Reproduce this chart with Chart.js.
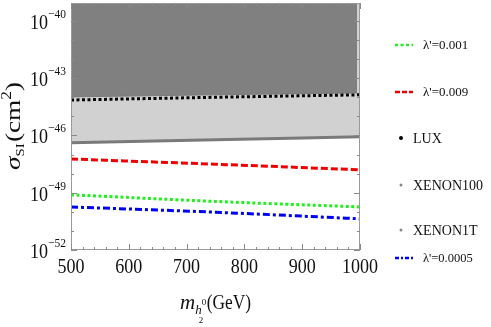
<!DOCTYPE html>
<html>
<head>
<meta charset="utf-8">
<script src="https://cdn.jsdelivr.net/npm/chart.js@4.4.0/dist/chart.umd.min.js"></script>
<style>
html, body { margin: 0; padding: 0; background: #fff; }
#wrap { width: 491px; height: 327px; }
</style>
</head>
<body>
<div id="wrap"><canvas id="chart"></canvas></div>
<script>
// Data (cross sections in cm^2)
const masses = [500, 750, 1000];
const xenon100Masses = [500, 750, 995];
const xenon100 = [1.05e-44, 1.35e-44, 1.7e-44];
const lux = [7.2e-45, 1.0e-44, 1.35e-44];
const xenon1t = [4.1e-47, 5.9e-47, 8.5e-47];
const lam009 = [5.9e-48, 3.1e-48, 1.6e-48];
const lam001 = [7.8e-50, 3.5e-50, 1.8e-50];
const lam0005 = [1.8e-50, 9.5e-51, 4.3e-51];

const xTicks = [500, 600, 700, 800, 900, 1000];
const yTickExps = [-40, -43, -46, -49, -52];

const serif = '"Liberation Serif", "DejaVu Serif", serif';

function pts(xs, ys) {
    return xs.map((m, i) => ({ x: m, y: ys[i] }));
}

// draw text squeezed/stretched horizontally by sx
function textScaled(ctx, str, x, y, sx) {
    ctx.save();
    ctx.translate(x, y);
    ctx.scale(sx, 1);
    ctx.fillText(str, 0, 0);
    ctx.restore();
}

// Custom axes, ticks, titles and legend
const decorPlugin = {
    id: 'decor',
    afterDraw(chart) {
        const ctx = chart.ctx;
        const xs = chart.scales.x;
        const ys = chart.scales.y;
        const area = chart.chartArea;
        ctx.save();

        // frame
        ctx.strokeStyle = '#9a9a9a';
        ctx.lineWidth = 1;
        ctx.strokeRect(area.left + 0.5, area.top + 0.5, area.right - area.left - 1, area.bottom - area.top - 1);

        // x ticks (inward, bottom and top)
        ctx.strokeStyle = '#8a8a8a';
        for (let v = 500; v <= 1000; v += 20) {
            const px = Math.round(xs.getPixelForValue(v)) + 0.5;
            const len = v % 100 === 0 ? 6 : 3;
            ctx.beginPath();
            ctx.moveTo(px, area.bottom);
            ctx.lineTo(px, area.bottom - len);
            ctx.moveTo(px, area.top);
            ctx.lineTo(px, area.top + len);
            ctx.stroke();
        }
        // y ticks (inward, left and right)
        for (let e = -52; e <= -40; e++) {
            const py = Math.round(ys.getPixelForValue(Math.pow(10, e))) + 0.5;
            const len = (e + 52) % 3 === 0 ? 6 : 3;
            ctx.beginPath();
            ctx.moveTo(area.left, py);
            ctx.lineTo(area.left + len, py);
            ctx.moveTo(area.right, py);
            ctx.lineTo(area.right - len, py);
            ctx.stroke();
        }

        // x tick labels
        ctx.fillStyle = '#111';
        ctx.font = '22px ' + serif;
        ctx.textAlign = 'left';
        ctx.textBaseline = 'alphabetic';
        xTicks.forEach(v => {
            const w = ctx.measureText(String(v)).width * 0.82;
            textScaled(ctx, String(v), xs.getPixelForValue(v) - w / 2, 273, 0.82);
        });

        // y tick labels 10^e
        yTickExps.forEach(e => {
            const py = ys.getPixelForValue(Math.pow(10, e));
            const exp = '\u2212' + String(-e);
            ctx.font = '13px ' + serif;
            const ew = ctx.measureText(exp).width * 0.88;
            const ex = 66 - ew;
            textScaled(ctx, exp, ex, py - 3, 0.88);
            ctx.font = '22px ' + serif;
            const tw = ctx.measureText('10').width * 0.82;
            textScaled(ctx, '10', ex - tw, py + 8, 0.82);
        });

        // x axis title: m_{h_2^0}(GeV)
        ctx.font = 'italic 21px ' + serif;
        let x = 180;
        ctx.fillText('m', x, 309);
        x += ctx.measureText('m').width;
        ctx.font = 'italic 13px ' + serif;
        ctx.fillText('h', x, 314);
        const hw = ctx.measureText('h').width;
        ctx.font = '9px ' + serif;
        ctx.fillText('2', x + hw - 3, 323);
        ctx.fillText('0', x + hw, 305);
        x += hw + 5;
        ctx.font = '21px ' + serif;
        const gw = ctx.measureText('(GeV)').width;
        textScaled(ctx, '(GeV)', x, 309, (251 - x) / gw);

        // y axis title: sigma_SI(cm^2), rotated
        ctx.save();
        ctx.translate(20, 170);
        ctx.rotate(-Math.PI / 2);
        const runs = [
            { s: '\u03c3', f: 'italic 22px ', dy: 0 },
            { s: 'SI', f: '12px ', dy: 4 },
            { s: '(cm', f: '22px ', dy: 0, gap: 1 },
            { s: '2', f: '14px ', dy: -9 },
            { s: ')', f: '22px ', dy: 0 }
        ];
        let total = 0;
        runs.forEach(r => {
            ctx.font = r.f + serif;
            r.w = ctx.measureText(r.s).width;
            total += r.w + (r.gap || 0);
        });
        const k = 88 / total;
        ctx.scale(k, 1);
        let t = 0;
        runs.forEach(r => {
            ctx.font = r.f + serif;
            t += (r.gap || 0);
            ctx.fillText(r.s, t, r.dy);
            t += r.w;
        });
        ctx.restore();

        // legend
        const legend = [
            { y: 45, type: 'line', color: '#22ee22', dash: [3, 2.5], label: "\u03bb'=0.001", size: 13 },
            { y: 92, type: 'line', color: '#ee0000', dash: [5, 2], label: "\u03bb'=0.009", size: 13 },
            { y: 138, type: 'dot', color: '#000', r: 2, label: 'LUX', size: 14 },
            { y: 185, type: 'dot', color: '#888', r: 1.5, label: 'XENON100', size: 14 },
            { y: 230, type: 'dot', color: '#888', r: 1.5, label: 'XENON1T', size: 14 },
            { y: 258, type: 'line', color: '#0000ee', dash: [4, 2, 2, 2], label: "\u03bb'=0.0005", size: 12.5 }
        ];
        legend.forEach(item => {
            if (item.type === 'line') {
                ctx.strokeStyle = item.color;
                ctx.lineWidth = 2.5;
                ctx.setLineDash(item.dash);
                ctx.beginPath();
                ctx.moveTo(395, item.y);
                ctx.lineTo(413, item.y);
                ctx.stroke();
                ctx.setLineDash([]);
            } else {
                ctx.fillStyle = item.color;
                ctx.beginPath();
                ctx.arc(401, item.y, item.r, 0, Math.PI * 2);
                ctx.fill();
            }
            ctx.fillStyle = '#111';
            ctx.font = item.size + 'px ' + serif;
            ctx.textAlign = 'left';
            ctx.textBaseline = 'middle';
            ctx.fillText(item.label, item.type === 'line' ? 423 : 413, item.y + 1);
        });

        ctx.restore();
    }
};

const ctx = document.getElementById('chart').getContext('2d');
const chart = new Chart(ctx, {
    type: 'line',
    data: {
        datasets: [
            {
                label: 'XENON100',
                data: pts(xenon100Masses, xenon100),
                borderColor: '#7a7a7a',
                borderWidth: 1,
                backgroundColor: '#808080',
                fill: 'end',
                order: 4
            },
            {
                label: 'XENON1T',
                data: pts(masses, xenon1t),
                borderColor: '#7a7a7a',
                borderWidth: 3,
                backgroundColor: '#d1d1d1',
                fill: 'end',
                order: 5
            },
            {
                label: 'LUX',
                data: pts(masses, lux),
                borderColor: '#000',
                borderWidth: 3,
                borderDash: [3, 2.5],
                fill: false,
                order: 1
            },
            {
                label: "\u03bb'=0.009",
                data: pts(masses, lam009),
                borderColor: '#ee0000',
                borderWidth: 3,
                borderDash: [7, 3],
                fill: false,
                order: 1
            },
            {
                label: "\u03bb'=0.001",
                data: pts(masses, lam001),
                borderColor: '#22ee22',
                borderWidth: 3,
                borderDash: [3, 2.5],
                fill: false,
                order: 1
            },
            {
                label: "\u03bb'=0.0005",
                data: pts(masses, lam0005),
                borderColor: '#0000ee',
                borderWidth: 3,
                borderDash: [7, 3, 3, 3],
                fill: false,
                order: 1
            }
        ]
    },
    options: {
        responsive: true,
        maintainAspectRatio: false,
        animation: false,
        layout: { padding: { left: 71, right: 131, top: 3, bottom: 77 } },
        elements: {
            point: { radius: 0 },
            line: { cubicInterpolationMode: 'monotone' }
        },
        plugins: {
            legend: { display: false },
            tooltip: { enabled: false }
        },
        scales: {
            x: {
                type: 'linear',
                min: 500,
                max: 1000,
                grid: { display: false, drawTicks: false },
                border: { display: false },
                ticks: { display: false }
            },
            y: {
                type: 'logarithmic',
                min: 1e-52,
                max: 8.7e-40,
                grid: { display: false, drawTicks: false },
                border: { display: false },
                ticks: { display: false }
            }
        }
    },
    plugins: [decorPlugin]
});
</script>
</body>
</html>
